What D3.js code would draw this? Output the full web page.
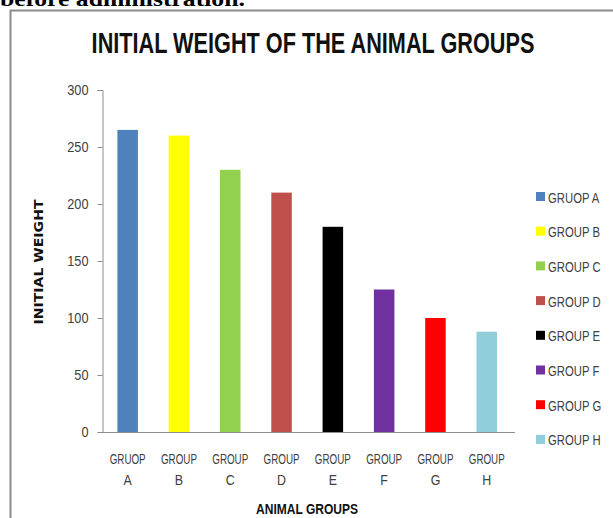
<!DOCTYPE html>
<html><head><meta charset="utf-8">
<script src="https://cdn.jsdelivr.net/npm/d3@7"></script>
<style>body{margin:0;background:#fff}svg{display:block}</style>
</head><body>
<script>
const categories = ["GRUOP A","GROUP B","GROUP C","GROUP D","GROUP E","GROUP F","GROUP G","GROUP H"];
const values = [265, 260, 230, 210, 180, 125, 100, 88];
const colors = ["#4F81BD","#FFFF00","#92D050","#C0504D","#000000","#7030A0","#FF0000","#92CDDC"];
const yTicks = [0,50,100,150,200,250,300];

const W=613,H=518;
const svg=d3.select("body").append("svg").attr("width",W).attr("height",H);
const font="'Liberation Sans',Arial,sans-serif";

// text placed at (x0,y0), horizontally scaled by factor f (or to a target width)
function ntext(parent,x0,y0,str,o){
  const t=parent.append("text").attr("x",0).attr("y",0)
    .attr("font-family",o.family||font).attr("font-size",o.size)
    .attr("font-weight",o.weight||"normal").attr("fill",o.fill||"#404040")
    .attr("text-anchor",o.anchor||"start").text(str);
  const l=t.node().getComputedTextLength();
  const f=o.width?o.width/l:(o.f||1);
  t.attr("transform",`translate(${x0},${y0})${o.rot?` rotate(${o.rot})`:""} scale(${f},1)`);
  return t;
}

// caption fragment above frame
ntext(svg,0,6,"before administration.",{family:"'Liberation Serif',serif",weight:"bold",size:21,width:245,fill:"#000"});

// frame
svg.append("rect").attr("x",10.5).attr("y",10.5).attr("width",W+10).attr("height",H+10)
  .attr("fill","none").attr("stroke","#8c8c8c").attr("stroke-width",2);

const x=d3.scaleBand().domain(categories).range([102,512.4]).paddingInner(0.6).paddingOuter(0.3);
const y=d3.scaleLinear().domain([0,300]).range([432,90]);

// title
ntext(svg,313,53,"INITIAL WEIGHT OF THE ANIMAL GROUPS",{weight:"bold",size:29,width:443,anchor:"middle",fill:"#111"});

// bars
svg.selectAll("rect.bar").data(values).join("rect").attr("class","bar")
  .attr("x",(d,i)=>x(categories[i])).attr("width",x.bandwidth())
  .attr("y",d=>y(d)).attr("height",d=>y(0)-y(d)).attr("fill",(d,i)=>colors[i]);

// y axis
const ya=svg.append("g").attr("transform","translate(102.5,0)")
  .call(d3.axisLeft(y).tickValues(yTicks).tickSize(5).tickPadding(9));
ya.select(".domain").attr("stroke","#8c8c8c");
ya.selectAll(".tick line").attr("stroke","#8c8c8c");
ya.selectAll(".tick text").attr("font-family",font).attr("font-size",15).attr("fill","#404040")
  .each(function(){
    const s=d3.select(this); const xx=+s.attr("x");
    s.attr("transform",`translate(${xx},0) scale(0.85,1) translate(${-xx},0)`);
  });

// x axis line
svg.append("line").attr("x1",102).attr("x2",515).attr("y1",432.5).attr("y2",432.5).attr("stroke","#8c8c8c");

// x labels (two lines)
const xl=svg.append("g");
categories.forEach(c=>{
  const [a,b]=c.split(" ");
  const cx=x(c)+x.bandwidth()/2;
  ntext(xl,cx,464,a,{size:15.5,width:36,anchor:"middle"});
  ntext(xl,cx,485,b,{size:15.5,f:0.8,anchor:"middle"});
});

// axis titles
ntext(svg,307,514,"ANIMAL GROUPS",{weight:"bold",size:14,width:102,anchor:"middle",fill:"#111"});
ntext(svg,43,262,"INITIAL WEIGHT",{family:"'DejaVu Sans',sans-serif",weight:"bold",size:12.5,width:125,anchor:"middle",fill:"#111",rot:-90});

// legend
const lg=svg.append("g");
categories.forEach((c,i)=>{
  const yy=197+i*34.7;
  lg.append("rect").attr("x",536).attr("y",yy-5).attr("width",9).attr("height",9).attr("fill",colors[i]);
  ntext(lg,548,yy+5.5,c,{size:14.5,f:0.78});
});
</script>
</body></html>
